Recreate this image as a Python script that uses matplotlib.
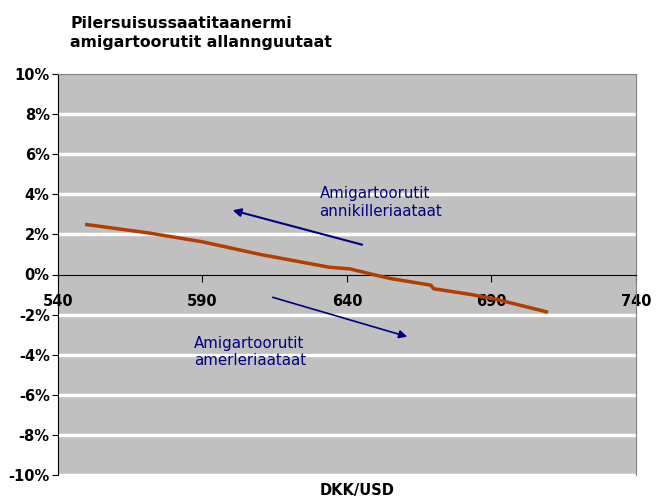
import matplotlib.pyplot as plt

plt.rcParams['font.family'] = ['DejaVu Sans']

# exchange rate DKK/USD vs change in deficit (%)
rate = [550, 571, 585, 590, 610, 634, 641, 649, 655, 669, 670, 683, 692, 699, 709]
change = [2.49, 2.08, 1.75, 1.63, 1.0, 0.36, 0.28, 0.0, -0.2, -0.53, -0.71, -1.0, -1.25, -1.5, -1.86]

x_ticks = [540, 590, 640, 690, 740]
y_ticks = [-10, -8, -6, -4, -2, 0, 2, 4, 6, 8, 10]
y_labels = [f'{v}%' for v in y_ticks]

title = 'Pilersuisussaatitaanermi\namigartoorutit allannguutaat'
upper_note = 'Amigartoorutit\nannikilleriaataat'
lower_note = 'Amigartoorutit\namerleriaataat'

fig = plt.figure(figsize=(6.68, 5.0), dpi=100)
ax = fig.add_axes([0.0868, 0.05, 0.8652, 0.802])
ax.set_facecolor('#c0c0c0')

ax.set_xlim(540, 740)
ax.set_ylim(-10, 10)

for v in y_ticks:
    if v not in (0, 10):
        ax.axhline(v, color='white', linewidth=2.5, zorder=1)

ax.plot(rate, change, color='#b33c00', linewidth=2.5, zorder=3)

# arrows
navy = '#000080'
ax.annotate('', xy=(599.5, 3.24), xytext=(646.2, 1.45),
            arrowprops=dict(arrowstyle='-|>', color=navy, lw=1.5, mutation_scale=12), zorder=4)
ax.annotate('', xy=(661.8, -3.14), xytext=(613.4, -1.1),
            arrowprops=dict(arrowstyle='-|>', color=navy, lw=1.2, mutation_scale=12), zorder=4)
ax.text(630.5, 4.4, upper_note, color=navy, fontsize=10.8, va='top', ha='left', linespacing=1.2)
ax.text(587, -3.05, lower_note, color=navy, fontsize=10.8, va='top', ha='left', linespacing=1.2)

# axes styling
ax.spines['bottom'].set_position(('data', 0))
ax.spines['bottom'].set_color('black')
ax.spines['left'].set_color('black')
ax.spines['top'].set_color('#808080')
ax.spines['right'].set_color('#808080')
ax.set_xticks(x_ticks)
ax.set_xticklabels([str(v) for v in x_ticks], fontsize=10.5, fontweight='bold')
ax.tick_params(axis='x', direction='out', length=5, pad=9)
ax.set_yticks(y_ticks)
ax.set_yticklabels(y_labels, fontsize=10.5, fontweight='bold')
ax.tick_params(axis='y', direction='out', length=4, pad=2)

fig.text(0.105, 0.9, title, fontsize=11.3, fontweight='bold', ha='left', va='bottom', linespacing=1.3)
fig.text(0.535, 0.018, 'DKK/USD', fontsize=10.5, fontweight='bold', ha='center', va='center')

fig.savefig('out.png', dpi=100)
